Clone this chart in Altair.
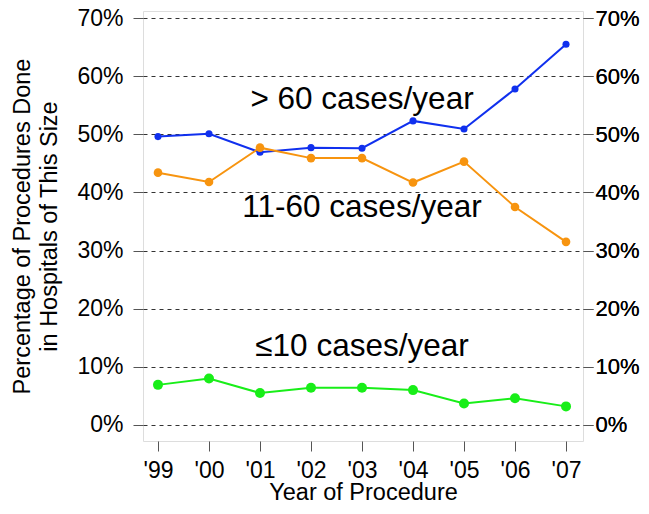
import altair as alt
import pandas as pd

years = [1999, 2000, 2001, 2002, 2003, 2004, 2005, 2006, 2007]
over60 = [49.6, 50.1, 46.9, 47.7, 47.6, 52.3, 50.9, 57.8, 65.5]
mid11_60 = [43.4, 41.8, 47.7, 45.9, 45.9, 41.7, 45.3, 37.5, 31.5]
upto10 = [6.9, 8.0, 5.5, 6.4, 6.4, 6.0, 3.7, 4.6, 3.2]

series_names = ["> 60", "11-60", "≤10"]
series_colors = ["#1030EE", "#F7940F", "#18EE18"]
series_sizes = [50, 100, 85]

label_texts = ["> 60 cases/year", "11-60 cases/year", "≤10 cases/year"]
label_x = [2003.0, 2003.0, 2003.0]
label_y = [55.9, 37.3, 13.4]

y_ticks = [0, 10, 20, 30, 40, 50, 60, 70]

rows = []
for name, vals in zip(series_names, [over60, mid11_60, upto10]):
    for yr, v in zip(years, vals):
        rows.append({"year": yr, "pct": v, "series": name})
df = pd.DataFrame(rows)
labels_df = pd.DataFrame({"text": label_texts, "year": label_x, "pct": label_y})

FONT = "Liberation Sans"

x_scale = alt.Scale(domain=[1998.706, 2007.333], nice=False, zero=False)
y_scale = alt.Scale(domain=[-2.754, 71.204], nice=False, zero=False)

x_axis = alt.Axis(
    values=years,
    labelExpr="\"'\" + slice(toString(datum.value), 2)",
    title="Year of Procedure",
    grid=False,
    domain=False,
    ticks=True,
    tickSize=10,
    tickColor="#555555",
    tickWidth=1,
    labelPadding=8,
    titlePadding=-2,
    labelFontSize=23,
    titleFontSize=23.5,
    titleFontWeight="normal",
    labelColor="#000000",
    titleColor="#000000",
    labelFont=FONT,
    titleFont=FONT,
)

color_enc = alt.Color(
    "series:N",
    scale=alt.Scale(domain=series_names, range=series_colors),
    legend=None,
)
size_enc = alt.Size(
    "series:N",
    scale=alt.Scale(domain=series_names, range=series_sizes),
    legend=None,
)

left_axis = alt.Axis(
    orient="left",
    values=y_ticks,
    labelExpr="datum.value + '%'",
    title=["Percentage of Procedures Done", "in Hospitals of This Size"],
    grid=True,
    gridDash=[4, 4],
    gridColor="#333333",
    gridWidth=1,
    domain=False,
    ticks=True,
    tickSize=10,
    tickColor="#555555",
    tickWidth=1,
    labelPadding=10,
    titlePadding=15,
    titleLineHeight=27,
    labelFontSize=23,
    titleFontSize=23.5,
    titleFontWeight="normal",
    labelColor="#000000",
    titleColor="#000000",
    labelFont=FONT,
    titleFont=FONT,
)

right_axis = alt.Axis(
    orient="right",
    values=y_ticks,
    labelExpr="datum.value + '%'",
    title=None,
    grid=False,
    domain=False,
    ticks=True,
    tickSize=10,
    tickColor="#555555",
    tickWidth=1,
    labelPadding=2,
    labelFontSize=22,
    labelColor="#000000",
    labelFont=FONT,
)

lines = alt.Chart(df).mark_line(strokeWidth=2).encode(
    x=alt.X("year:Q", scale=x_scale, axis=x_axis),
    y=alt.Y("pct:Q", scale=y_scale, axis=left_axis),
    color=color_enc,
    detail="series:N",
)

points = alt.Chart(df).mark_point(filled=True, opacity=1).encode(
    x=alt.X("year:Q", scale=x_scale, axis=x_axis),
    y=alt.Y("pct:Q", scale=y_scale, axis=right_axis),
    color=color_enc,
    size=size_enc,
)

texts = alt.Chart(labels_df).mark_text(
    fontSize=31.5, font=FONT, color="#000000", align="center", baseline="middle"
).encode(
    x=alt.X("year:Q", scale=x_scale, axis=x_axis),
    y=alt.Y("pct:Q", scale=y_scale, axis=right_axis),
    text="text:N",
)

chart = (
    alt.layer(lines, points, texts)
    .resolve_scale(y="shared", color="shared")
    .resolve_axis(y="independent")
    .properties(
        width=440,
        height=430,
        autosize=alt.AutoSizeParams(type="none"),
        padding={"left": 135, "top": 3, "right": 58, "bottom": 73},
    )
    .configure_view(stroke="#444444", strokeWidth=1)
    .configure(background="white")
)

chart.save("out.html", embed_options={"renderer": "svg", "actions": False})
